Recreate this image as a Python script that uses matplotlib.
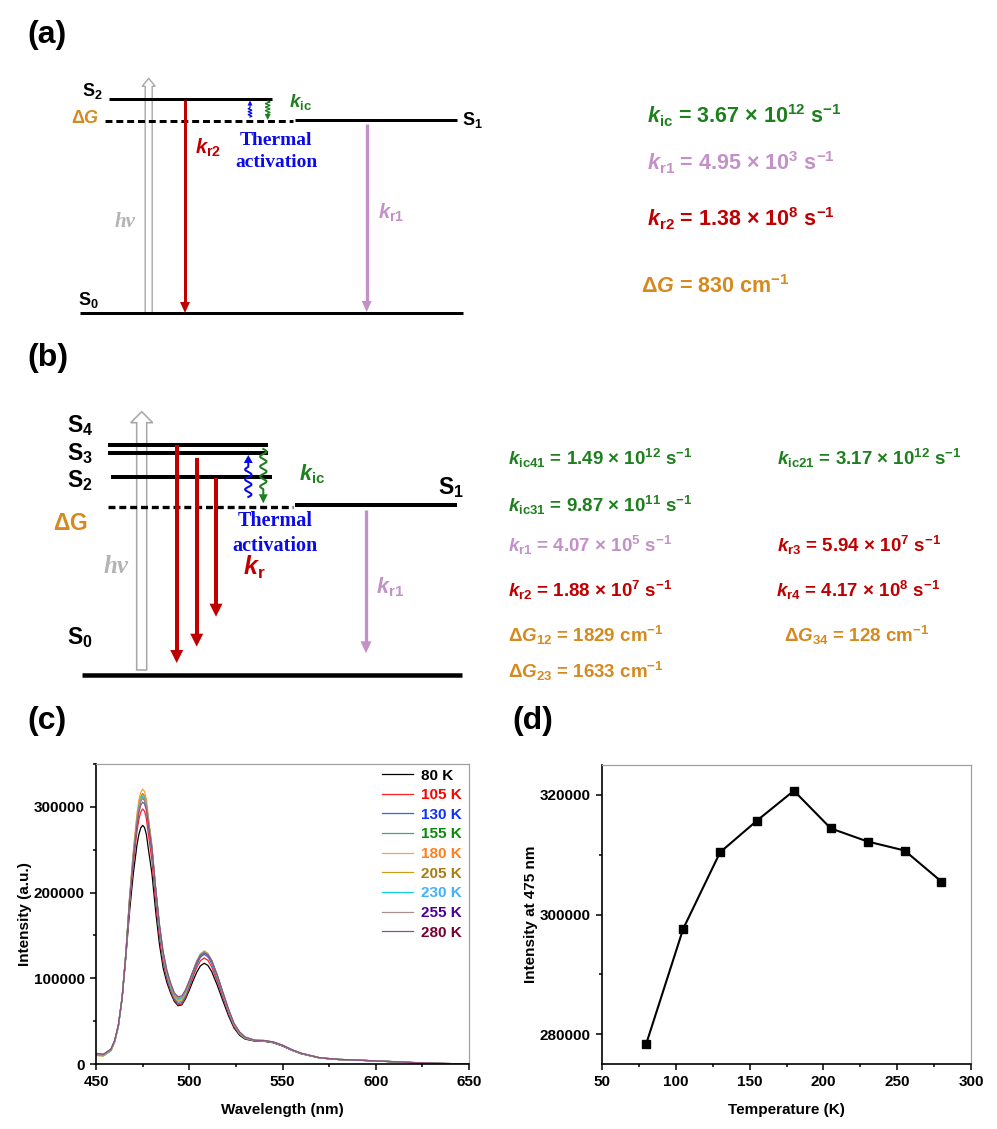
import numpy as np
import matplotlib.pyplot as plt
from matplotlib.patches import Polygon
from matplotlib.ticker import MultipleLocator, FormatStrFormatter

plt.rcParams['font.family'] = ['Liberation Sans', 'DejaVu Sans']
plt.rcParams['font.weight'] = 'bold'
plt.rcParams['axes.labelweight'] = 'bold'
plt.rcParams['mathtext.fontset'] = 'custom'
plt.rcParams['mathtext.rm'] = 'Liberation Sans'
plt.rcParams['mathtext.it'] = 'Liberation Sans:italic'
plt.rcParams['mathtext.bf'] = 'Liberation Sans:bold'
plt.rcParams['mathtext.bfit'] = 'Liberation Sans:italic:bold'
plt.rcParams['lines.scale_dashes'] = False

# colours
GREEN = '#1E7F1E'
LILAC = '#C391C8'
RED = '#C00000'
ORANGE = '#D6891C'
BLUE = '#0B0BE8'
GRAY = '#A8A8A8'

# ---------------- data ----------------
temps = [80, 105, 130, 155, 180, 205, 230, 255, 280]
int_475 = [278400, 297600, 310400, 315700, 320700, 314400, 312200, 310700, 305500]
temp_labels = ['80 K', '105 K', '130 K', '155 K', '180 K', '205 K', '230 K', '255 K', '280 K']

wl = [450, 454, 458, 460, 462, 464,
      466, 468, 470, 472, 473, 474, 475, 476, 477, 478,
      480, 482, 484, 486, 488, 490, 492, 494, 496, 498, 500, 502, 504, 506, 508, 510, 512,
      515, 518, 521, 524, 527, 530,
      535, 540, 545, 550, 555, 560, 570, 580, 590, 600, 610, 620, 635, 650]

I_80 = [12000, 11000, 17000, 27000, 45000, 77000,
        125000, 178000, 222000, 256000, 268000, 275500, 278400, 276000, 268000, 252000,
        222000, 178000, 140000, 112000, 95000, 83000, 73000, 68000, 69000, 76000, 86000, 97000, 107000, 114500, 117500, 115000, 108000,
        92000, 74000, 56500, 42000, 33500, 29000,
        26800, 26500, 24800, 21000, 16000, 12000, 7000, 5200, 4500, 3500, 2600, 1600, 600, 100]
I_105 = [11500, 10500, 16500, 26500, 45000, 77000,
         127000, 186000, 234000, 272000, 285500, 294000, 297600, 295000, 286500, 269500,
         237000, 190000, 149000, 118500, 99000, 85500, 74500, 69000, 70000, 77500, 89000, 101500, 112500, 120500, 123700, 121000, 113500,
         96500, 77500, 59000, 43500, 34500, 29500,
         27000, 26700, 25000, 21200, 16200, 12100, 7100, 5200, 4500, 3500, 2600, 1600, 600, 100]
I_130 = [11000, 10000, 16000, 26000, 44500, 77000,
         128000, 191000, 242000, 283000, 297500, 306500, 310400, 307500, 298500, 281000,
         247000, 198000, 155000, 123000, 102000, 87500, 76000, 70500, 71500, 79500, 92000, 104500, 116000, 124500, 128000, 125000, 117500,
         100000, 80000, 61000, 45000, 35000, 30000,
         27200, 26900, 25200, 21400, 16300, 12200, 7100, 5300, 4500, 3500, 2600, 1600, 600, 100]
I_155 = [10500, 9800, 15500, 26000, 44500, 77500,
         128500, 193000, 245000, 288000, 303000, 312000, 315700, 313000, 304000, 286000,
         251500, 201500, 158000, 125500, 104000, 89000, 77500, 72000, 73000, 81000, 93500, 106000, 118000, 126500, 130000, 127000, 119500,
         101500, 81500, 62000, 45500, 35500, 30000,
         27300, 27000, 25300, 21500, 16400, 12300, 7200, 5300, 4600, 3500, 2600, 1600, 600, 100]
I_180 = [10000, 9500, 15500, 25500, 44000, 77500,
         129000, 195000, 249000, 293000, 308000, 317000, 320700, 318000, 309000, 290500,
         255500, 205000, 161000, 128000, 106000, 91000, 79000, 73500, 74500, 82500, 95000, 107500, 120000, 128500, 132000, 129000, 121500,
         103000, 82500, 63000, 46000, 36000, 30500,
         27500, 27200, 25500, 21700, 16500, 12400, 7200, 5300, 4600, 3600, 2700, 1700, 650, 100]
I_205 = [10000, 9500, 15500, 25500, 44000, 77500,
         128500, 192500, 244000, 287000, 302000, 311000, 314400, 312000, 303500, 286000,
         252500, 203500, 160500, 128000, 106500, 91500, 80000, 75000, 76000, 84000, 96000, 108000, 120000, 128000, 131500, 128500, 121000,
         103000, 83000, 63500, 46500, 36500, 31000,
         27600, 27300, 25600, 21800, 16600, 12400, 7200, 5300, 4600, 3600, 2700, 1700, 650, 100]
I_230 = [10500, 9800, 16000, 26000, 44500, 77500,
         128000, 191500, 242500, 285000, 300000, 308500, 312200, 310000, 302000, 285000,
         252000, 204000, 161500, 129000, 107500, 92500, 81000, 76000, 77000, 84500, 96000, 108000, 119500, 127500, 130500, 128000, 120500,
         103000, 83000, 63500, 46500, 36500, 31000,
         27600, 27300, 25600, 21800, 16600, 12500, 7300, 5400, 4600, 3600, 2700, 1700, 650, 100]
I_255 = [11500, 10500, 16500, 26500, 45000, 77000,
         128000, 191000, 241500, 283500, 298500, 307000, 310700, 308500, 301000, 284500,
         252000, 204500, 162500, 130000, 108500, 93500, 82000, 77000, 78000, 85500, 96500, 108000, 119000, 127000, 130000, 127500, 120500,
         103500, 83500, 64000, 47000, 37000, 31000,
         27700, 27400, 25700, 21900, 16700, 12500, 7300, 5400, 4600, 3600, 2700, 1700, 650, 100]
I_280 = [12500, 11500, 17500, 27500, 45500, 77000,
         127500, 189000, 238500, 279000, 293500, 302000, 305500, 303500, 296500, 281000,
         250500, 204500, 163500, 131000, 109500, 94500, 83000, 78500, 79500, 86500, 97000, 108000, 118500, 126500, 129500, 127000, 120500,
         104000, 84000, 64500, 47500, 37500, 31500,
         27800, 27500, 25800, 22000, 16800, 12600, 7300, 5400, 4600, 3600, 2700, 1700, 650, 100]
spectra = [I_80, I_105, I_130, I_155, I_180, I_205, I_230, I_255, I_280]

line_colors = ['#000000', '#FF2020', '#3060FF', '#40A878', '#FF9A50', '#C8A010', '#10D0E0', '#A89090', '#905080']
text_colors = ['#000000', '#FF0000', '#1030FF', '#0A8A0A', '#FF8020', '#A87C10', '#40B0FF', '#4B0090', '#780030']

# rate constants, panel (a)
rates_a = [r'$\mathbfit{k}_\mathbf{ic}$ = 3.67 $\times$ 10$^\mathbf{12}$ s$^\mathbf{-1}$',
           r'$\mathbfit{k}_\mathbf{r1}$ = 4.95 $\times$ 10$^\mathbf{3}$ s$^\mathbf{-1}$',
           r'$\mathbfit{k}_\mathbf{r2}$ = 1.38 $\times$ 10$^\mathbf{8}$ s$^\mathbf{-1}$',
           r'$\Delta\mathbfit{G}$ = 830 cm$^\mathbf{-1}$']
rates_a_col = [GREEN, LILAC, RED, ORANGE]

# rate constants, panel (b): left column then right column
rates_b_left = [r'$\mathbfit{k}_\mathbf{ic41}$ = 1.49 $\times$ 10$^\mathbf{12}$ s$^\mathbf{-1}$',
                r'$\mathbfit{k}_\mathbf{ic31}$ = 9.87 $\times$ 10$^\mathbf{11}$ s$^\mathbf{-1}$',
                r'$\mathbfit{k}_\mathbf{r1}$ = 4.07 $\times$ 10$^\mathbf{5}$ s$^\mathbf{-1}$',
                r'$\mathbfit{k}_\mathbf{r2}$ = 1.88 $\times$ 10$^\mathbf{7}$ s$^\mathbf{-1}$',
                r'$\Delta\mathbfit{G}_\mathbf{12}$ = 1829 cm$^\mathbf{-1}$',
                r'$\Delta\mathbfit{G}_\mathbf{23}$ = 1633 cm$^\mathbf{-1}$']
rates_b_left_col = [GREEN, GREEN, LILAC, RED, ORANGE, ORANGE]
rates_b_right = [r'$\mathbfit{k}_\mathbf{ic21}$ = 3.17 $\times$ 10$^\mathbf{12}$ s$^\mathbf{-1}$',
                 r'$\mathbfit{k}_\mathbf{r3}$ = 5.94 $\times$ 10$^\mathbf{7}$ s$^\mathbf{-1}$',
                 r'$\mathbfit{k}_\mathbf{r4}$ = 4.17 $\times$ 10$^\mathbf{8}$ s$^\mathbf{-1}$',
                 r'$\Delta\mathbfit{G}_\mathbf{34}$ = 128 cm$^\mathbf{-1}$']
rates_b_right_col = [GREEN, RED, RED, ORANGE]

# ---------------- figure ----------------
fig = plt.figure(figsize=(9.97, 11.29), dpi=100)
ax0 = fig.add_axes([0, 0, 1, 1])
ax0.set_xlim(0, 997)
ax0.set_ylim(1129, 0)
ax0.axis('off')

PT = 0.72  # pixel -> point


def txt(x, y, s, size, color='k', ha='left', **kw):
    ax0.text(x, y, s, fontsize=size, color=color, ha=ha, va='baseline', **kw)


def level(x0, x1, y, lw, dashed=False):
    kw = dict(dashes=(5, 2.8)) if dashed else {}
    ax0.plot([x0, x1], [y, y], color='k', lw=lw * PT, solid_capstyle='butt',
             dash_capstyle='butt', zorder=2, **kw)


def head(x, y_tip, sign, hw, hl, color):
    ax0.add_patch(Polygon([[x - hw / 2, y_tip - sign * hl], [x + hw / 2, y_tip - sign * hl], [x, y_tip]],
                          closed=True, fc=color, ec='none', zorder=3))


def arrow(x, y0, y1, color, lw, hw, hl):
    sign = 1 if y1 > y0 else -1
    ax0.plot([x, x], [y0, y1 - sign * hl * 0.9], color=color, lw=lw * PT, solid_capstyle='butt', zorder=3)
    head(x, y1, sign, hw, hl, color)


def hollow_arrow(x, y0, y1, w, hw, hl, lw):
    pts = [[x - w / 2, y0], [x - w / 2, y1 + hl], [x - hw / 2, y1 + hl], [x, y1],
           [x + hw / 2, y1 + hl], [x + w / 2, y1 + hl], [x + w / 2, y0]]
    ax0.add_patch(Polygon(pts, closed=True, fc='white', ec=GRAY, lw=lw * PT, zorder=1))


def wavy(x, y0, y1, color, amp, period, wave_len, hw, hl, lw):
    sign = 1 if y1 > y0 else -1
    t = np.linspace(0, abs(y1 - y0) - hl * 0.9, 300)
    xs = x + np.where(t < wave_len, amp * np.sin(2 * np.pi * t / period), 0)
    ax0.plot(xs, y0 + sign * t, color=color, lw=lw * PT, zorder=3)
    head(x, y1, sign, hw, hl, color)


# ---------- panel (a) ----------
txt(27, 43, '(a)', 23)
hollow_arrow(148.7, 313, 78.3, 7, 13, 8, 1.4)
level(109.3, 271.7, 99, 3)
level(105.3, 293.3, 120.7, 3, dashed=True)
level(295, 456.7, 120, 3)
level(80, 463.3, 313.3, 3)
arrow(185, 100, 313, RED, 3, 10, 11)
arrow(366.7, 124, 312, LILAC, 3.3, 10, 11)
wavy(250, 117, 100.5, BLUE, 1.8, 3, 9, 5, 5, 1.2)
wavy(267.7, 101, 120, GREEN, 2.2, 3.5, 12, 6, 6, 1.3)

txt(102.5, 96, r'S$_\mathbf{2}$', 13, ha='right')
txt(99, 123.3, r'$\Delta\mathbfit{G}$', 13, ORANGE, ha='right')
txt(461.7, 125, r'S$_\mathbf{1}$', 13)
txt(78.3, 305, r'S$_\mathbf{0}$', 13)
txt(289.3, 106.7, r'$\mathbfit{k}_\mathbf{ic}$', 13.5, GREEN)
txt(195, 153.3, r'$\mathbfit{k}_\mathbf{r2}$', 14.5, RED)
txt(378.3, 218.3, r'$\mathbfit{k}_\mathbf{r1}$', 14.5, LILAC)
txt(276, 145, 'Thermal', 14, BLUE, ha='center', family='Liberation Serif')
txt(276, 167.3, 'activation', 14, BLUE, ha='center', family='Liberation Serif')
txt(115, 226.7, 'hν', 15, '#B4B4B4', family='Liberation Serif', style='italic')

for s, c, y in zip(rates_a, rates_a_col, [123.3, 170, 226.7, 293.3]):
    txt(641 if s.startswith(r'$\Delta') else 646.7, y, s, 15.5, c)

# ---------- panel (b) ----------
txt(27, 366, '(b)', 23)
hollow_arrow(141.7, 670, 411.7, 10, 22, 11, 1.6)
level(107.7, 268.3, 445.3, 4)
level(107.7, 268.3, 453.3, 4)
level(110.7, 271.7, 476.7, 4)
level(107.7, 293.3, 506.7, 3.3, dashed=True)
level(295, 456.7, 505.3, 4)
level(81.7, 461.7, 675, 4.5)
for x, y0, y1 in zip([176.7, 196.7, 216], [445, 458, 478], [663, 646.7, 616.7]):
    arrow(x, y0, y1, RED, 4, 13, 13)
arrow(366, 510, 653.3, LILAC, 3.3, 11, 12)
wavy(248.3, 497, 455, BLUE, 3.2, 10, 30, 9, 8, 2)
wavy(263.3, 449, 503.3, GREEN, 3.2, 10, 40, 9, 9, 2)

txt(66.7, 431.7, r'S$_\mathbf{4}$', 16.5)
txt(66.7, 460, r'S$_\mathbf{3}$', 16.5)
txt(66.7, 487, r'S$_\mathbf{2}$', 16.5)
txt(66.7, 644, r'S$_\mathbf{0}$', 16.5)
txt(438.3, 494.3, r'S$_\mathbf{1}$', 16.5)
txt(53, 530, r'$\Delta$G', 16.5, ORANGE)
txt(103.3, 573.3, 'hν', 18, '#B4B4B4', family='Liberation Serif', style='italic')
txt(243, 575, r'$\mathbfit{k}_\mathbf{r}$', 18, RED)
txt(299.3, 480, r'$\mathbfit{k}_\mathbf{ic}$', 15.5, GREEN)
txt(376, 593.3, r'$\mathbfit{k}_\mathbf{r1}$', 15.5, LILAC)
txt(275, 526, 'Thermal', 14.5, BLUE, ha='center', family='Liberation Serif')
txt(275, 550.7, 'activation', 14.5, BLUE, ha='center', family='Liberation Serif')

for s, c, y in zip(rates_b_left, rates_b_left_col, [465, 511.7, 551.7, 596.7, 641.7, 678.3]):
    txt(508.3, y, s, 13.5, c)
for s, c, y, x in zip(rates_b_right, rates_b_right_col, [465, 551.7, 596.7, 641.7],
                      [777.3, 777.3, 776, 784]):
    txt(x, y, s, 13.5, c)

# ---------- panel (c) ----------
txt(27, 729, '(c)', 23)
txt(512, 729, '(d)', 23)

axc = fig.add_axes([96 / 997, 65 / 1129, 373 / 997, 300 / 1129])
lines = []
for y, c in zip(spectra, line_colors):
    ln, = axc.plot(wl, y, color=c, lw=0.9)
    lines.append(ln)
axc.set_xlim(450, 650)
axc.set_ylim(0, 350000)
axc.xaxis.set_major_locator(MultipleLocator(50))
axc.xaxis.set_minor_locator(MultipleLocator(25))
axc.yaxis.set_major_locator(MultipleLocator(100000))
axc.yaxis.set_minor_locator(MultipleLocator(50000))
axc.yaxis.set_major_formatter(FormatStrFormatter('%d'))
axc.set_xlabel('Wavelength (nm)', fontsize=11, labelpad=10)
axc.set_ylabel('Intensity (a.u.)', fontsize=11, labelpad=1.5)
axc.legend(lines, temp_labels, labelcolor=text_colors, frameon=False, loc='upper left',
           bbox_to_anchor=(0.766, 0.985), borderpad=0, borderaxespad=0, handlelength=2.05,
           handletextpad=0.5, labelspacing=0.37, prop={'weight': 'bold', 'size': 11})

# ---------- panel (d) ----------
axd = fig.add_axes([602 / 997, 65 / 1129, 369 / 997, 299 / 1129])
axd.plot(temps, int_475, color='k', lw=1.5, marker='s', ms=5.5)
axd.set_xlim(50, 300)
axd.set_ylim(275000, 325000)
axd.xaxis.set_major_locator(MultipleLocator(50))
axd.xaxis.set_minor_locator(MultipleLocator(25))
axd.yaxis.set_major_locator(MultipleLocator(20000))
axd.yaxis.set_minor_locator(MultipleLocator(10000))
axd.yaxis.set_major_formatter(FormatStrFormatter('%d'))
axd.set_xlabel('Temperature (K)', fontsize=11, labelpad=10)
axd.set_ylabel('Intensity at 475 nm', fontsize=11, labelpad=1.5)

for ax in (axc, axd):
    for side in ('left', 'bottom'):
        ax.spines[side].set_linewidth(1.2)
    for side in ('top', 'right'):
        ax.spines[side].set_color('#A0A0A0')
        ax.spines[side].set_linewidth(0.9)
    ax.tick_params(which='both', direction='out', top=False, right=False, width=1.1, labelsize=11)
    ax.tick_params(which='major', length=4.5)
    ax.tick_params(which='minor', length=2.5)

fig.savefig('out.png', dpi=100)
